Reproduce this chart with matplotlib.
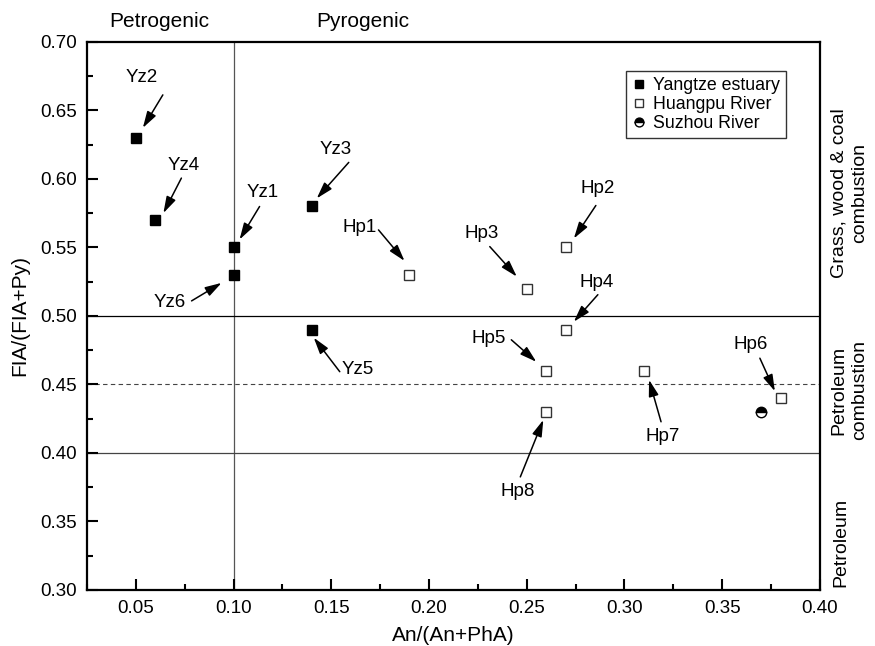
import matplotlib
matplotlib.use("Agg")
from matplotlib import pyplot as plt
from matplotlib.ticker import MultipleLocator
from matplotlib.transforms import offset_copy

plt.rcParams["font.family"] = ["Liberation Sans", "DejaVu Sans"]

# Yangtze estuary
yz_names = ["Yz1", "Yz2", "Yz3", "Yz4", "Yz5", "Yz6"]
yz_x = [0.10, 0.05, 0.14, 0.06, 0.14, 0.10]
yz_y = [0.55, 0.63, 0.58, 0.57, 0.49, 0.53]

# Huangpu River
hp_names = ["Hp1", "Hp2", "Hp3", "Hp4", "Hp5", "Hp6", "Hp7", "Hp8"]
hp_x = [0.19, 0.27, 0.25, 0.27, 0.26, 0.38, 0.31, 0.26]
hp_y = [0.53, 0.55, 0.52, 0.49, 0.46, 0.44, 0.46, 0.43]

# Suzhou River
sz_x = [0.37]
sz_y = [0.43]

# label / arrow offsets in pixels from the point: (label, tail, head)
offsets = {
    "Yz1": ((29, -55), (26, -41), (6, -8)),
    "Yz2": ((6, -60), (27, -43), (7, -10)),
    "Yz3": ((24, -57), (37, -44), (5, -8)),
    "Yz4": ((28, -55), (26, -42), (8, -7)),
    "Yz5": ((46, 40), (28, 42), (2, 8)),
    "Yz6": ((-64, 28), (-42, 26), (-12, 8)),
    "Hp1": ((-50, -47), (-31, -45), (-5, -14)),
    "Hp2": ((32, -59), (30, -42), (8, -9)),
    "Hp3": ((-45, -55), (-37, -42), (-10, -12)),
    "Hp4": ((31, -47), (32, -35), (8, -8)),
    "Hp5": ((-58, -32), (-35, -31), (-10, -9)),
    "Hp6": ((-30, -54), (-21, -40), (-6, -7)),
    "Hp7": ((19, 66), (17, 51), (5, 9)),
    "Hp8": ((-29, 80), (-26, 65), (-3, 8)),
}

fig = plt.figure(figsize=(8.75, 6.46), dpi=100)
ax = fig.add_axes([0.0994, 0.0867, 0.8377, 0.8483])

ax.set_xlim(0.025, 0.40)
ax.set_ylim(0.30, 0.70)

ax.axvline(0.10, color="#555555", lw=0.9, zorder=1)
ax.axhline(0.50, color="black", lw=0.9, zorder=1)
ax.axhline(0.40, color="#444444", lw=0.9, zorder=1)
ax.axhline(0.45, color="#444444", lw=0.8, ls=(0, (4, 3)), zorder=1)

ax.plot(yz_x, yz_y, ls="none", marker="s", ms=7, mfc="black", mec="black",
        label="Yangtze estuary", zorder=3)
ax.plot(hp_x, hp_y, ls="none", marker="s", ms=7, mfc="white", mec="#333333",
        mew=1.0, label="Huangpu River", zorder=3)
ax.plot(sz_x, sz_y, ls="none", marker="o", ms=7.5, fillstyle="top",
        mfc="black", mfcalt="white", mec="black", mew=1.0,
        label="Suzhou River", zorder=3)

pt = 0.72  # pixels -> points at 100 dpi
for names, xs, ys in ((yz_names, yz_x, yz_y), (hp_names, hp_x, hp_y)):
    for name, x, y in zip(names, xs, ys):
        lab, tail, head = offsets[name]
        ax.annotate(name, (x, y), xytext=(lab[0] * pt, -lab[1] * pt),
                    textcoords="offset points", ha="center", va="center",
                    fontsize=13.5)
        tr_head = offset_copy(ax.transData, fig=fig, x=head[0] * pt,
                              y=-head[1] * pt, units="points")
        tr_tail = offset_copy(ax.transData, fig=fig, x=tail[0] * pt,
                              y=-tail[1] * pt, units="points")
        ax.annotate("", xy=(x, y), xycoords=tr_head,
                    xytext=(x, y), textcoords=tr_tail,
                    arrowprops=dict(arrowstyle="-|>,head_length=1.0,head_width=0.3",
                                    color="black", lw=1.1,
                                    shrinkA=0, shrinkB=0))

ax.xaxis.set_major_locator(MultipleLocator(0.05))
ax.xaxis.set_minor_locator(MultipleLocator(0.025))
ax.yaxis.set_major_locator(MultipleLocator(0.05))
ax.yaxis.set_minor_locator(MultipleLocator(0.025))
ax.xaxis.set_major_formatter(lambda v, p: f"{v:.2f}")
ax.yaxis.set_major_formatter(lambda v, p: f"{v:.2f}")
ax.tick_params(which="both", direction="in", top=False, right=False,
               labelsize=13.5, width=1.5)
ax.tick_params(which="major", length=8, pad=7)
ax.tick_params(which="minor", length=4.5)
for s in ax.spines.values():
    s.set_linewidth(1.6)

ax.set_xlabel("An/(An+PhA)", fontsize=15, labelpad=7)
ax.set_ylabel("FIA/(FIA+Py)", fontsize=15, labelpad=8)

ax.text(0.062, 1.037, "Petrogenic", transform=ax.get_xaxis_transform(),
        ha="center", va="center", fontsize=15)
ax.text(0.166, 1.037, "Pyrogenic", transform=ax.get_xaxis_transform(),
        ha="center", va="center", fontsize=15)

right = ax.get_yaxis_transform()
ax.text(1.04, 0.59, "Grass, wood & coal\ncombustion", transform=right,
        rotation=90, ha="center", va="center", fontsize=14, linespacing=1.3)
ax.text(1.04, 0.446, "Petroleum\ncombustion", transform=right,
        rotation=90, ha="center", va="center", fontsize=14, linespacing=1.3)
ax.text(1.029, 0.335, "Petroleum", transform=right,
        rotation=90, ha="center", va="center", fontsize=14)

leg = ax.legend(loc="upper right", bbox_to_anchor=(0.954, 0.947), fontsize=12.8,
                frameon=True, fancybox=False, edgecolor="black",
                handlelength=0.8, handletextpad=0.4, borderpad=0.35,
                labelspacing=0.1, markerscale=0.85, borderaxespad=0)
leg.get_frame().set_linewidth(1.0)

fig.savefig("out.png", dpi=100)
